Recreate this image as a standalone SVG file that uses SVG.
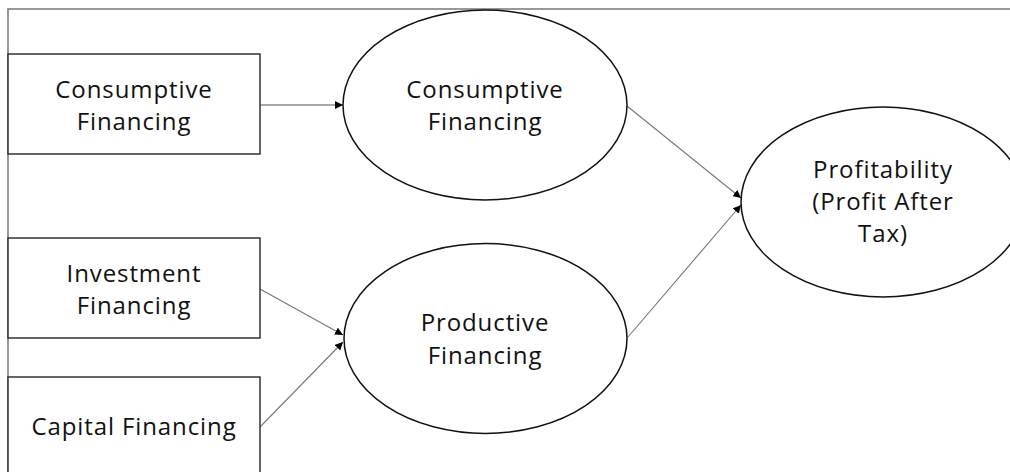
<svg xmlns="http://www.w3.org/2000/svg" width="1010" height="472" viewBox="0 0 1010 472">
  <defs>
    <marker id="arrow" viewBox="0 0 10 10" refX="10" refY="5" markerWidth="8" markerHeight="8" markerUnits="userSpaceOnUse" orient="auto">
      <path d="M0,0 L10,5 L0,10 z" fill="#000"/>
    </marker>
    <style>
      .frame { fill: none; stroke: #777; stroke-width: 1.5; }
      .box { fill: #fff; stroke: #333; stroke-width: 1.5; }
      .oval { fill: #fff; stroke: #111; stroke-width: 1.5; }
      .link { fill: none; stroke: #777; stroke-width: 1.1; marker-end: url(#arrow); }
      .label { font-family: "Open Sans", "Liberation Sans", sans-serif; font-size: 24px; letter-spacing: 0.9px; fill: #111; text-anchor: middle; }
    </style>
  </defs>

  <rect width="1010" height="472" fill="#fff"/>

  <!-- outer frame: top and left edges -->
  <path class="frame" d="M8,472 L8,9 L1010,9"/>

  <!-- connectors -->
  <g id="connectors">
    <line class="link" x1="260" y1="105" x2="343" y2="105" style="stroke:#555"/>
    <line class="link" x1="260" y1="289" x2="343" y2="335"/>
    <line class="link" x1="260" y1="427" x2="343" y2="342"/>
    <line class="link" x1="627" y1="106" x2="741" y2="198"/>
    <line class="link" x1="628" y1="337" x2="741" y2="205"/>
  </g>

  <g id="box-consumptive">
    <rect class="box" x="8" y="54" width="252" height="100"/>
    <text class="label" x="134" y="98">Consumptive</text>
    <text class="label" x="134" y="130">Financing</text>
  </g>

  <g id="box-investment">
    <rect class="box" x="8" y="238" width="252" height="100"/>
    <text class="label" x="134" y="282">Investment</text>
    <text class="label" x="134" y="314">Financing</text>
  </g>

  <g id="box-capital">
    <rect class="box" x="8" y="377" width="252" height="110"/>
    <text class="label" x="134" y="435">Capital Financing</text>
  </g>

  <g id="oval-consumptive">
    <ellipse class="oval" cx="485" cy="105" rx="142" ry="95"/>
    <text class="label" x="485" y="98">Consumptive</text>
    <text class="label" x="485" y="130">Financing</text>
  </g>

  <g id="oval-productive">
    <ellipse class="oval" cx="485.5" cy="338.5" rx="141.5" ry="95"/>
    <text class="label" x="485" y="331">Productive</text>
    <text class="label" x="485" y="364">Financing</text>
  </g>

  <g id="oval-profitability">
    <ellipse class="oval" cx="883" cy="202" rx="142" ry="95"/>
    <text class="label" x="883" y="178">Profitability</text>
    <text class="label" x="883" y="210">(Profit After</text>
    <text class="label" x="883" y="242">Tax)</text>
  </g>
</svg>
